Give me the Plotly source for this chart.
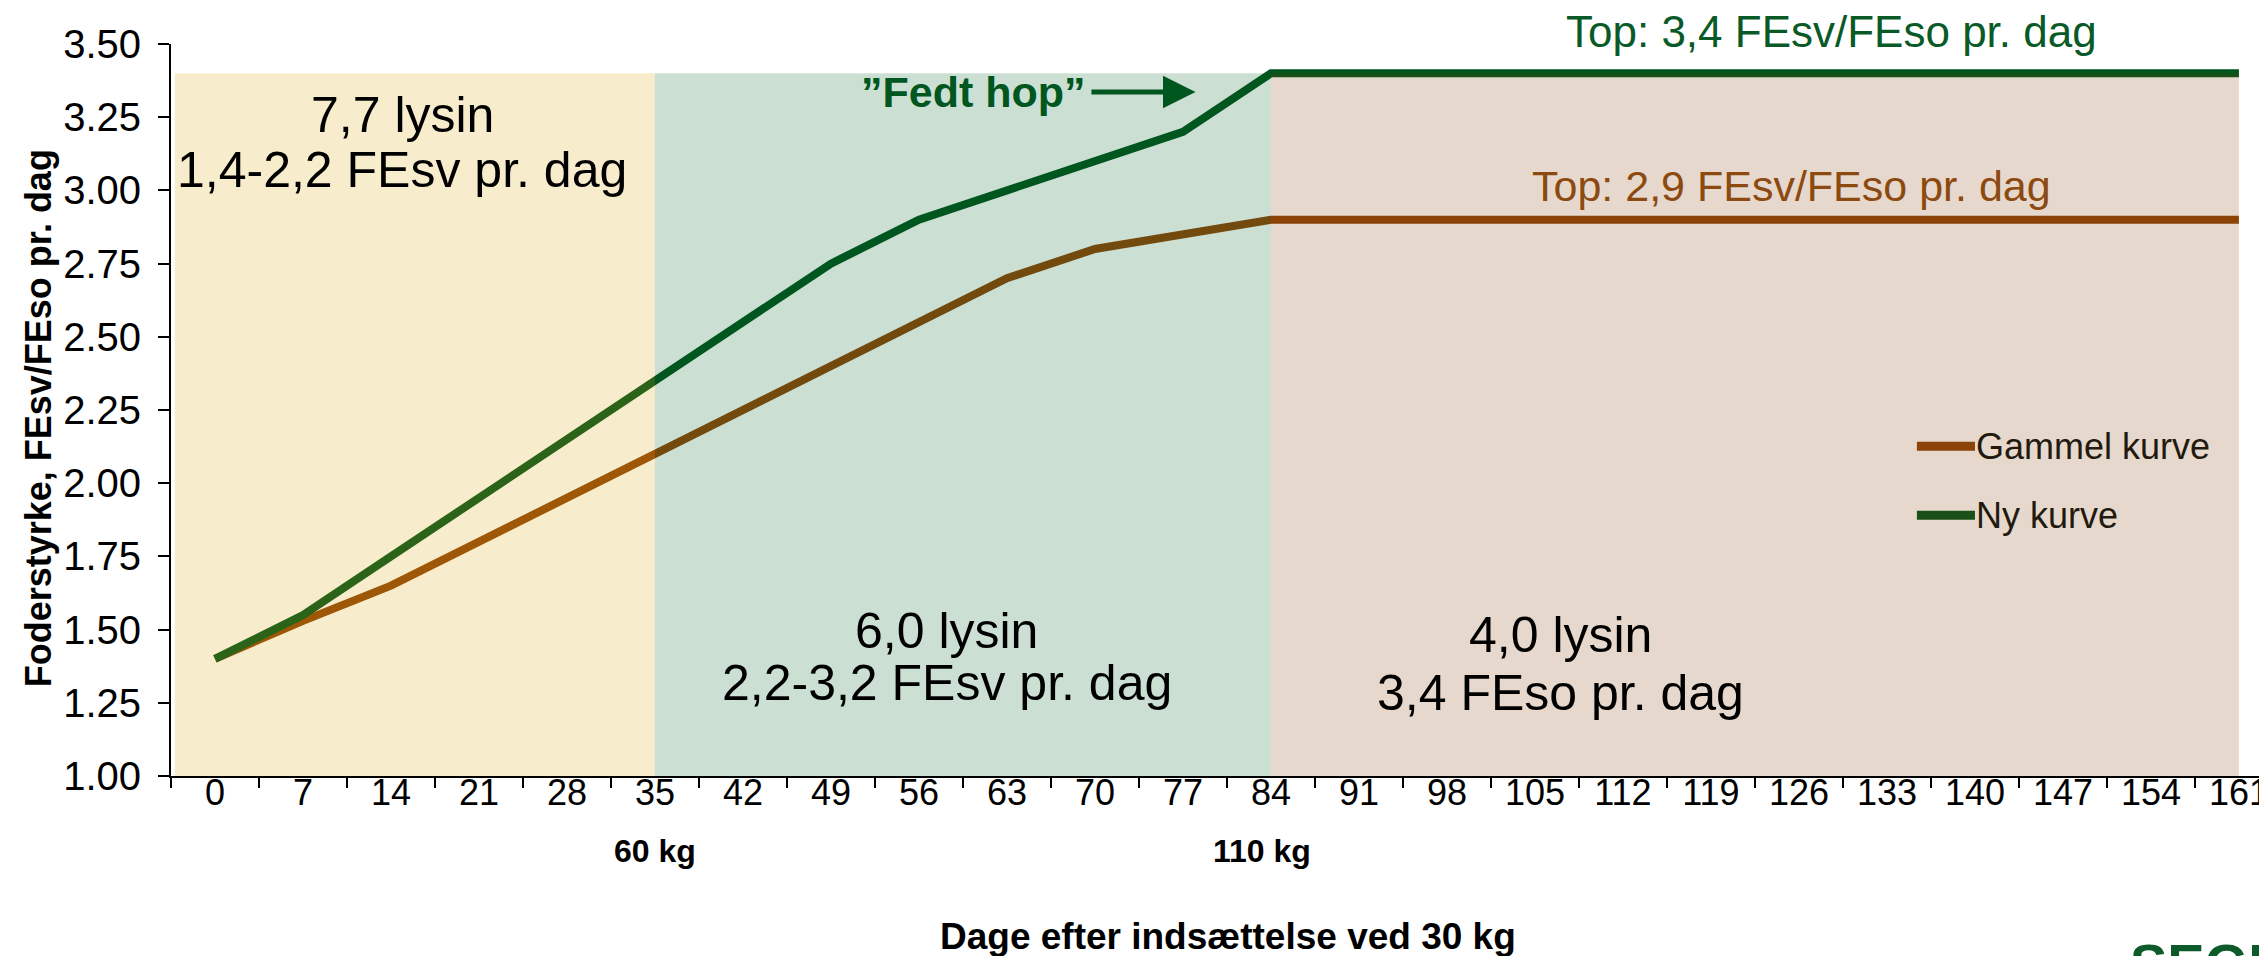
import plotly.graph_objects as go

# Dage efter indsaettelse (kategorier paa x-aksen)
dage = [0, 7, 14, 21, 28, 35, 42, 49, 56, 63, 70, 77, 84, 91, 98, 105,
        112, 119, 126, 133, 140, 147, 154, 161]

# Foderstyrke, FEsv/FEso pr. dag
gammel_kurve = [1.40, 1.53, 1.65, 1.80, 1.95, 2.10, 2.25, 2.40, 2.55, 2.70, 2.80, 2.85,
                2.90, 2.90, 2.90, 2.90, 2.90, 2.90, 2.90, 2.90, 2.90, 2.90, 2.90, 2.90]
ny_kurve = [1.40, 1.55, 1.75, 1.95, 2.15, 2.35, 2.55, 2.75, 2.90, 3.00, 3.10, 3.20,
            3.40, 3.40, 3.40, 3.40, 3.40, 3.40, 3.40, 3.40, 3.40, 3.40, 3.40, 3.40]

# faser (start/slut i dage) og top for baggrundsfelterne
fase_start = [0, 35, 84]
fase_slut = [35, 84, 161]
fase_top = 3.4
fase_tekst = [["7,7 lysin", "1,4-2,2 FEsv pr. dag"],
              ["6,0 lysin", "2,2-3,2 FEsv pr. dag"],
              ["4,0 lysin", "3,4 FEso pr. dag"]]

vaegt_dage = [35, 84]
vaegt_tekst = ["60 kg", "110 kg"]

y_ticks = [1.00, 1.25, 1.50, 1.75, 2.00, 2.25, 2.50, 2.75, 3.00, 3.25, 3.50]

FONT = "Liberation Sans, Arial, sans-serif"
GROEN = "#00541e"
BRUN = "#904509"

fig = go.Figure()
fig.add_trace(go.Scatter(x=dage, y=gammel_kurve, mode="lines", name="Gammel kurve",
                         line=dict(color=BRUN, width=8)))
fig.add_trace(go.Scatter(x=dage, y=ny_kurve, mode="lines", name="Ny kurve",
                         line=dict(color=GROEN, width=8)))

# forklaring tegnet manuelt (laengere streger end plotlys egen)
for navn, farve, ly in [("Gammel kurve", BRUN, 0.4505), ("Ny kurve", GROEN, 0.3563)]:
    fig.add_shape(type="line", xref="paper", yref="paper", x0=0.8298, x1=0.8574,
                  y0=ly, y1=ly, line=dict(color=farve, width=9), layer="above")
    fig.add_annotation(x=0.857, y=ly, xref="paper", yref="paper", xanchor="left",
                       yanchor="middle", text=navn, showarrow=False,
                       font=dict(family=FONT, size=36, color="#231a0f"))

# halvgennemsigtige felter lagt ovenpaa kurverne
farver = ["rgba(215,160,0,0.2)", "rgba(0,95,35,0.2)", "rgba(130,60,0,0.2)"]
for i in range(3):
    x0 = fase_start[i] - 3.2 if i == 0 else fase_start[i]
    fig.add_shape(type="rect", xref="x", yref="y", x0=x0, x1=fase_slut[i],
                  y0=1.0, y1=fase_top, fillcolor=farver[i], line=dict(width=0),
                  layer="above")

# tekst i felterne
tekst_pos = [(14.9, 3.257, 3.069), (58.2, 1.494, 1.317), (107.0, 1.481, 1.283)]
for (x, y1, y2), linjer in zip(tekst_pos, fase_tekst):
    for y, t in zip((y1, y2), linjer):
        fig.add_annotation(x=x, y=y, text=t, showarrow=False,
                           font=dict(family=FONT, size=50, color="black"))

fig.add_annotation(x=128.6, y=1.0174, yref="paper", yanchor="middle",
                   text="Top: 3,4 FEsv/FEso pr. dag", showarrow=False,
                   font=dict(family=FONT, size=44, color="#0a5a28"))
fig.add_annotation(x=125.4, y=3.016, text="Top: 2,9 FEsv/FEso pr. dag", showarrow=False,
                   font=dict(family=FONT, size=43, color="#8c4a10"))
fig.add_annotation(x=60.3, y=3.336, text="<b>\u201dFedt hop\u201d</b>", showarrow=False,
                   font=dict(family=FONT, size=43, color="#00561f"))
fig.add_annotation(x=78.0, y=3.336, ax=69.6, ay=3.336, axref="x", ayref="y", text="",
                   showarrow=True, arrowhead=2, arrowsize=1.3, arrowwidth=5,
                   arrowcolor="#00561f")

vaegt_x = [35, 83.3]
for d, t in zip(vaegt_x, vaegt_tekst):
    fig.add_annotation(x=d, y=-0.102, yref="paper", yanchor="middle",
                       text="<b>" + t + "</b>", showarrow=False,
                       font=dict(family=FONT, size=32, color="black"))

fig.add_annotation(x=0.5025, y=-0.219, xref="paper", yref="paper", xanchor="center",
                   yanchor="middle", text="<b>Dage efter indsættelse ved 30 kg</b>",
                   showarrow=False, font=dict(family=FONT, size=37, color="black"))
fig.add_annotation(x=-0.0631, y=0.489, xref="paper", yref="paper", xanchor="center",
                   yanchor="middle", textangle=-90,
                   text="<b>Foderstyrke, FEsv/FEso pr. dag</b>", showarrow=False,
                   font=dict(family=FONT, size=36, color="black"))

# logo nederst til hoejre (beskaaret)
fig.add_annotation(x=0.930, y=-0.211, xref="paper", yref="paper", xanchor="left",
                   yanchor="top", text="<b>SEGES</b>", showarrow=False,
                   font=dict(family=FONT, size=56, color="#0d5a2a"))

fig.update_layout(
    width=2267, height=956,
    margin=dict(l=163, r=0, t=36, b=188),
    paper_bgcolor="white", plot_bgcolor="white",
    font=dict(family=FONT, size=34, color="black"),
    showlegend=False,
)
fig.update_xaxes(
    range=[-3.5, 163.87], tickvals=dage, ticktext=[str(d) for d in dage],
    ticks="", showgrid=False, zeroline=False, showline=True,
    linecolor="black", linewidth=2, ticklabelstandoff=-16,
    tickfont=dict(family=FONT, size=36, color="black"),
    minor=dict(ticks="outside", tick0=-3.5, dtick=7, ticklen=10, tickwidth=2,
               tickcolor="black", showgrid=False),
)
fig.update_yaxes(
    range=[1.0, 3.5], tickvals=y_ticks, tickformat=".2f",
    ticks="outside", ticklen=11, tickwidth=2, tickcolor="black",
    showgrid=False, zeroline=False, showline=True, linecolor="black", linewidth=2,
    ticklabelstandoff=9,
    tickfont=dict(family=FONT, size=40, color="black"),
)

fig.write_html("out.html")
